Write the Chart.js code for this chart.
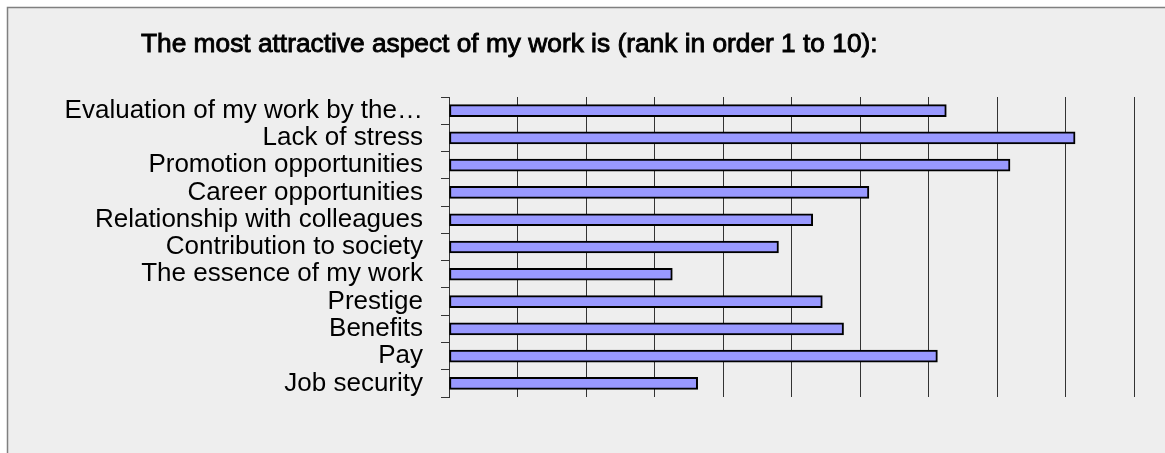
<!DOCTYPE html>
<html>
<head>
<meta charset="utf-8">
<script src="https://cdn.jsdelivr.net/npm/chart.js@4/dist/chart.umd.min.js"></script>
<style>
  html, body { margin: 0; padding: 0; background: #ffffff; }
  #wrap { width: 1165px; height: 453px; position: relative; }
</style>
</head>
<body>
<div id="wrap"><canvas id="c" width="1165" height="453"></canvas></div>
<script>
const titleText = "The most attractive aspect of my work is (rank in order 1 to 10):";
const categories = [
  "Evaluation of my work by the…",
  "Lack of stress",
  "Promotion opportunities",
  "Career opportunities",
  "Relationship with colleagues",
  "Contribution to society",
  "The essence of my work",
  "Prestige",
  "Benefits",
  "Pay",
  "Job security"
];
const rankValues = [7.26, 9.14, 8.19, 6.13, 5.31, 4.81, 3.26, 5.45, 5.76, 7.13, 3.63];
const axisMin = 0;
const axisMax = 10;
const axisStep = 1;

const framePlugin = {
  id: 'frame',
  beforeDraw(chart) {
    const ctx = chart.ctx;
    ctx.save();
    ctx.fillStyle = '#ffffff';
    ctx.fillRect(0, 0, chart.width, chart.height);
    ctx.fillStyle = '#eeeeee';
    ctx.fillRect(8, 8, chart.width, chart.height);
    ctx.strokeStyle = '#808080';
    ctx.lineWidth = 1.5;
    ctx.beginPath();
    ctx.moveTo(7.5, chart.height + 5);
    ctx.lineTo(7.5, 7.5);
    ctx.lineTo(chart.width + 5, 7.5);
    ctx.stroke();
    ctx.restore();
  }
};

const titlePlugin = {
  id: 'customTitle',
  afterDraw(chart) {
    const ctx = chart.ctx;
    ctx.save();
    ctx.font = '26.3px "Liberation Sans", Arial, sans-serif';
    ctx.textAlign = 'left';
    ctx.textBaseline = 'alphabetic';
    ctx.fillStyle = '#000000';
    ctx.strokeStyle = '#000000';
    ctx.lineWidth = 0.9;
    ctx.fillText(titleText, 141, 52);
    ctx.strokeText(titleText, 141, 52);
    ctx.restore();
  }
};

new Chart(document.getElementById('c'), {
  type: 'bar',
  data: {
    labels: categories,
    datasets: [{
      data: rankValues,
      backgroundColor: '#9999ff',
      borderColor: '#000000',
      borderWidth: 2,
      borderSkipped: false,
      barThickness: 12
    }]
  },
  options: {
    indexAxis: 'y',
    responsive: false,
    animation: false,
    layout: { padding: { left: 8, top: 97, right: 31, bottom: 56 } },
    plugins: {
      legend: { display: false },
      title: { display: false },
      tooltip: { enabled: false }
    },
    scales: {
      x: {
        min: axisMin,
        max: axisMax,
        ticks: { display: false, stepSize: axisStep },
        grid: { color: '#333333', lineWidth: 1, drawTicks: false },
        border: { display: false }
      },
      y: {
        afterFit(scale) { scale.width = 441; },
        ticks: {
          color: '#000000',
          padding: 18,
          autoSkip: false,
          font: { family: '"Liberation Sans", Arial, sans-serif', size: 26 }
        },
        grid: { drawOnChartArea: false, tickLength: 8, color: '#333333', offset: true },
        border: { display: true, color: '#333333', width: 1 }
      }
    }
  },
  plugins: [framePlugin, titlePlugin]
});
</script>
</body>
</html>
